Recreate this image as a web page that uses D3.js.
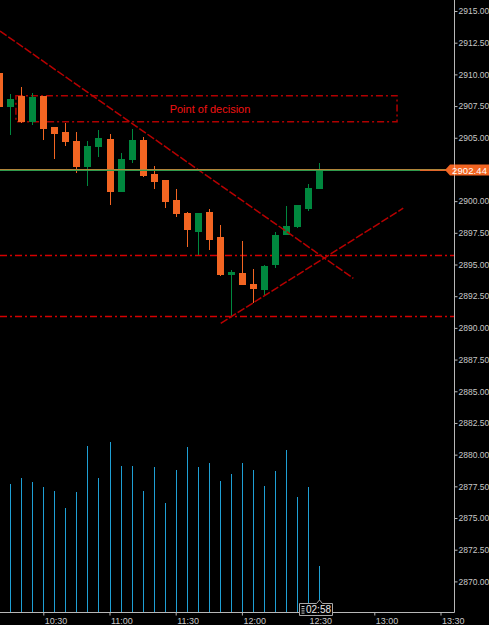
<!DOCTYPE html>
<html><head><meta charset="utf-8">
<script src="https://cdn.jsdelivr.net/npm/d3@7"></script>
<style>html,body{margin:0;padding:0;background:#000;overflow:hidden}svg{display:block}</style>
</head><body>
<script>
// ---- data ----
const times  = ["10:10","10:15","10:20","10:25","10:30","10:35","10:40","10:45","10:50","10:55","11:00","11:05","11:10","11:15","11:20","11:25","11:30","11:35","11:40","11:45","11:50","11:55","12:00","12:05","12:10","12:15","12:20","12:25","12:30","12:35"];
const opens  = [2910.09,2907.40,2908.27,2906.24,2908.27,2905.85,2905.43,2904.72,2902.69,2904.27,2904.93,2900.72,2903.25,2904.80,2902.16,2901.67,2900.07,2899.06,2897.59,2899.14,2897.17,2894.15,2894.33,2893.46,2892.99,2894.94,2897.33,2897.96,2899.36,2900.93];
const highs  = [2910.30,2908.43,2908.98,2908.53,2908.27,2905.85,2906.19,2905.45,2904.72,2905.59,2905.30,2903.82,2905.67,2905.06,2902.77,2901.67,2900.93,2899.14,2899.04,2899.36,2898.12,2894.57,2896.88,2894.62,2894.96,2897.59,2899.62,2899.70,2901.35,2902.99];
const lows   = [2907.30,2905.22,2906.19,2906.03,2904.82,2903.35,2904.37,2902.24,2901.22,2903.48,2899.72,2900.72,2902.99,2901.88,2900.98,2899.48,2898.77,2896.38,2895.77,2896.17,2894.12,2890.88,2893.41,2891.99,2892.62,2894.73,2897.33,2897.88,2899.22,2900.93];
const closes = [2907.45,2908.03,2906.24,2908.24,2905.67,2905.30,2904.67,2902.67,2904.35,2904.98,2900.72,2903.32,2904.80,2902.01,2901.51,2899.91,2899.01,2897.70,2899.04,2896.96,2894.17,2894.39,2893.41,2893.07,2894.91,2897.31,2898.04,2899.70,2901.01,2902.44];
const volumes = [125,128,134,130,125,121,104,120,166,134,170,146,146,121,145,109,142,165,145,149,131,138,149,142,126,141,162,115,125,46];
const priceTicks = [2915,2912.5,2910,2907.5,2905,2900,2897.5,2895,2892.5,2890,2887.5,2885,2882.5,2880,2877.5,2875,2872.5,2870];
const lastPrice = 2902.44;
const levels = [2895.77, 2890.92];
const zoneTimes = ["10:17.6","13:10.3"];
const zonePrices = [2908.32, 2906.27];
const zoneLabel = "Point of decision";
const downTrendTimes = ["10:10.4","12:50.5"];
const downTrendPrices = [2913.42, 2893.91];
const upTrendTimes = ["11:50.4","13:13.1"];
const upTrendPrices = [2890.36, 2899.44];
const timerText = "02:58";

// ---- setup ----
const W = 489, H = 625;
const axisX = 454, axisY = 612;
const parseT = s => { const [h, m] = s.split(":").map(Number); const d = new Date(2019,0,2,h,0,0); return new Date(d.getTime() + m*60000); };

const x = d3.scaleTime().domain([parseT("10:30"), parseT("13:30")]).range([43.3, 440.5]);
const y = d3.scaleLinear().domain([2915, 2870]).range([11, 581.4]);
const yv = d3.scaleLinear().domain([0, 200]).range([axisY, axisY - 200]);

const candles = times.map((t,i) => ({t: parseT(t), o: opens[i], h: highs[i], l: lows[i], c: closes[i], v: volumes[i]}));

const svg = d3.select("body").append("svg").attr("width", W).attr("height", H)
  .style("font-family", "'Liberation Sans', Arial, sans-serif");
svg.append("rect").attr("width", W).attr("height", H).attr("fill", "#000");

svg.append("defs").append("clipPath").attr("id","plot")
  .append("rect").attr("x",0).attr("y",0).attr("width",axisX).attr("height",axisY);

const plot = svg.append("g").attr("clip-path","url(#plot)");

// volume bars
plot.append("g").selectAll("line").data(candles).join("line")
  .attr("x1", d => Math.round(x(d.t)) + 0.5).attr("x2", d => Math.round(x(d.t)) + 0.5)
  .attr("y1", d => yv(d.v)).attr("y2", axisY)
  .attr("stroke", "#1f9fd4").attr("stroke-width", 1);

// horizontal levels (dash-dot)
plot.append("g").selectAll("line").data(levels).join("line")
  .attr("x1", 0).attr("x2", axisX)
  .attr("y1", d => Math.round(y(d)) + 0.5).attr("y2", d => Math.round(y(d)) + 0.5)
  .attr("stroke", "#d40000").attr("stroke-width", 1.6).attr("stroke-dasharray", "7,3,2,3");

// zone rectangle
const zx0 = x(parseT(zoneTimes[0])), zx1 = x(parseT(zoneTimes[1]));
const zy0 = y(zonePrices[0]), zy1 = y(zonePrices[1]);
plot.append("rect").attr("x", zx0).attr("y", zy0).attr("width", zx1 - zx0).attr("height", zy1 - zy0)
  .attr("fill", "none").attr("stroke", "#b00000").attr("stroke-width", 1.5).attr("stroke-dasharray", "7,3,2,3");
plot.append("text").attr("x", 210).attr("y", (zy0 + zy1)/2 + 4).attr("text-anchor","middle")
  .attr("fill", "#f01212").attr("font-size", "11px").text(zoneLabel);

// candles
const cg = plot.append("g").attr("shape-rendering","crispEdges");
const col = d => d.c >= d.o ? "#00873e" : "#f26522";
cg.selectAll("line").data(candles).join("line")
  .attr("x1", d => Math.round(x(d.t)) + 0.5).attr("x2", d => Math.round(x(d.t)) + 0.5)
  .attr("y1", d => y(d.h)).attr("y2", d => y(d.l))
  .attr("stroke", col).attr("stroke-width", 1);
cg.selectAll("rect").data(candles).join("rect")
  .attr("x", d => Math.round(x(d.t)) - 3).attr("width", 7)
  .attr("y", d => y(Math.max(d.o, d.c)))
  .attr("height", d => Math.max(1, Math.abs(y(d.o) - y(d.c))))
  .attr("fill", col);

// trend lines
const trend = (ts, ps) => plot.append("line")
  .attr("x1", x(parseT(ts[0]))).attr("y1", y(ps[0]))
  .attr("x2", x(parseT(ts[1]))).attr("y2", y(ps[1]))
  .attr("stroke", "#b80000").attr("stroke-width", 1.5).attr("stroke-dasharray", "8,2");
trend(downTrendTimes, downTrendPrices);
trend(upTrendTimes, upTrendPrices);

// last price line
const yl = Math.round(y(lastPrice));
plot.append("line").attr("x1",0).attr("x2",446).attr("y1",yl-0.5).attr("y2",yl-0.5)
  .attr("stroke","#b0843a").attr("stroke-width",1);
plot.append("line").attr("x1",0).attr("x2",420).attr("y1",yl+0.5).attr("y2",yl+0.5)
  .attr("stroke","#2f9a4c").attr("stroke-width",1);
plot.append("line").attr("x1",420).attr("x2",446).attr("y1",yl+0.5).attr("y2",yl+0.5)
  .attr("stroke","#e0662a").attr("stroke-width",1);

// axes frame
svg.append("line").attr("x1", axisX + 0.5).attr("x2", axisX + 0.5).attr("y1", 0).attr("y2", axisY + 0.5)
  .attr("stroke", "#b8b8b8").attr("stroke-width", 1);
svg.append("line").attr("x1", 0).attr("x2", axisX + 0.5).attr("y1", axisY + 0.5).attr("y2", axisY + 0.5)
  .attr("stroke", "#b8b8b8").attr("stroke-width", 1);

// right axis
const ra = svg.append("g").attr("transform", `translate(${axisX + 0.5},0)`)
  .call(d3.axisRight(y).tickValues(priceTicks).tickSize(3).tickPadding(1).tickFormat(d3.format(".2f")));
ra.select(".domain").remove();
ra.selectAll(".tick line").attr("stroke", "#b8b8b8");
ra.selectAll(".tick text").attr("fill", "#c8c8c8").attr("font-size", "8.5px")
  .attr("font-family", "'Liberation Sans', Arial, sans-serif");

// price label tag (on top of axis)
svg.append("path")
  .attr("d", `M445,${yl} L450,${yl-5.5} L489,${yl-5.5} L489,${yl+5.5} L450,${yl+5.5} Z`)
  .attr("fill", "#f26522");
svg.append("line").attr("x1", axisX + 0.5).attr("x2", axisX + 0.5).attr("y1", yl-5.5).attr("y2", yl+5.5)
  .attr("stroke", "#f7a080").attr("stroke-width", 1);
svg.append("text").attr("x", 452).attr("y", yl + 3.5).attr("fill","#fff")
  .attr("font-size","9.5px").attr("textLength", 35).text(lastPrice.toFixed(2));

// bottom axis
const ba = svg.append("g").attr("transform", `translate(0,${axisY + 0.5})`)
  .call(d3.axisBottom(x).ticks(d3.timeMinute.every(30)).tickSize(3).tickFormat(d3.timeFormat("%H:%M")));
ba.select(".domain").remove();
ba.selectAll(".tick line").attr("stroke", "#b8b8b8");
ba.selectAll(".tick text").attr("fill", "#c8c8c8").attr("font-size", "9px")
  .attr("font-family", "'Liberation Sans', Arial, sans-serif")
  .attr("text-anchor", "start").attr("x", 1).attr("y", 5).attr("dy", "0.71em");

// countdown timer box
const last = candles[candles.length - 1];
const lx = Math.round(x(last.t)) + 0.5;
const tb = svg.append("g");
tb.append("path")
  .attr("d", `M299.5,603.5 L${lx-3},603.5 L${lx},600 L${lx+3},603.5 L332.5,603.5 L332.5,615.5 L299.5,615.5 Z`)
  .attr("fill", "#000").attr("stroke", "#a8a8a8").attr("stroke-width", 1);
tb.selectAll("rect.ic").data([0,1,2,3]).join("rect").attr("class","ic")
  .attr("x", 301.5).attr("y", d => 606 + d*2.2).attr("width", 3).attr("height", 1).attr("fill", "#c8c8c8");
tb.append("text").attr("x", 306).attr("y", 613).attr("fill", "#e8e8e8")
  .attr("font-size", "10px").text(timerText);
</script>
</body></html>
